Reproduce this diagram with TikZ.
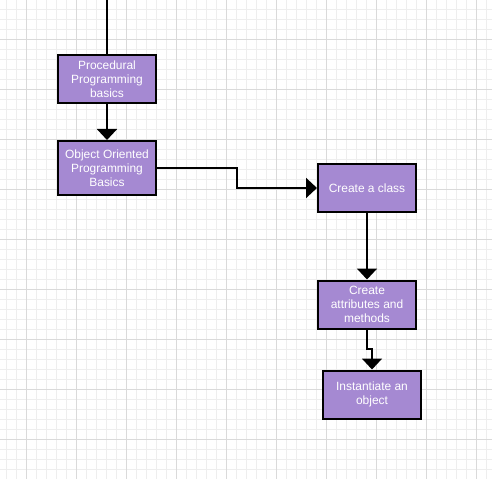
\documentclass[tikz,border=0pt]{standalone}
\usepackage{fontspec}
\setmainfont{Liberation Sans}
\usetikzlibrary{arrows.meta}
\definecolor{boxfill}{RGB}{165,137,210}
\definecolor{gridminor}{RGB}{238,238,238}
\definecolor{gridmajor}{RGB}{218,218,218}
\begin{document}
\begin{tikzpicture}[x=1bp, y=-1bp]
    \tikzstyle{step_box}  = [shape = rectangle, draw = black, fill = boxfill, line width = 2bp,
                             minimum width = 98bp, minimum height = 48bp, inner sep = 2bp,
                             text = white, align = center, font = \fontsize{12}{14}\selectfont]
    \tikzstyle{step_link} = [draw = black, line width = 2bp]
    \tikzstyle{step_arrow} = [step_link, -{Triangle[width=20bp, length=11bp]}]

    \useasboundingbox (0,0) rectangle (492,479);
    \fill[white] (0,0) rectangle (492,479);

    % background grid
    \foreach \gx in {6.7, 16.7, ..., 490} {
      \draw[gridminor, line width = 0.7bp] (\gx,0) -- (\gx,479);
    }
    \foreach \gy in {9.3, 19.3, ..., 479} {
      \draw[gridminor, line width = 0.7bp] (0,\gy) -- (492,\gy);
    }
    \foreach \gx in {26.7, 76.7, ..., 490} {
      \draw[gridmajor, line width = 0.7bp] (\gx,0) -- (\gx,479);
    }
    \foreach \gy in {39.3, 89.3, ..., 479} {
      \draw[gridmajor, line width = 0.7bp] (0,\gy) -- (492,\gy);
    }

    \coordinate (top) at (107, 0);

    \node[step_box] at (107, 79.5) (proc) {Procedural\\Programming\\basics};
    \node[step_box, minimum height = 54bp] at (107, 168) (oo) {Object Oriented\\Programming\\Basics};
    \node[step_box] at (367, 188) (cls) {Create a class};
    \node[step_box] at (367, 304.5) (attr) {Create\\attributes and\\methods};
    \node[step_box] at (372, 394.5) (inst) {Instantiate an\\object};

    \draw[step_link] (top) -- (proc.north);
    \draw[step_arrow] (proc.south) -- (oo.north);
    \draw[step_arrow] (oo.east) -- ++(80,0) |- (cls.west);
    \draw[step_arrow] (cls.south) -- (attr.north);
    \draw[step_arrow] (attr.south) -- ++(0,19) -| (inst.north);
  \end{tikzpicture}
\end{document}
